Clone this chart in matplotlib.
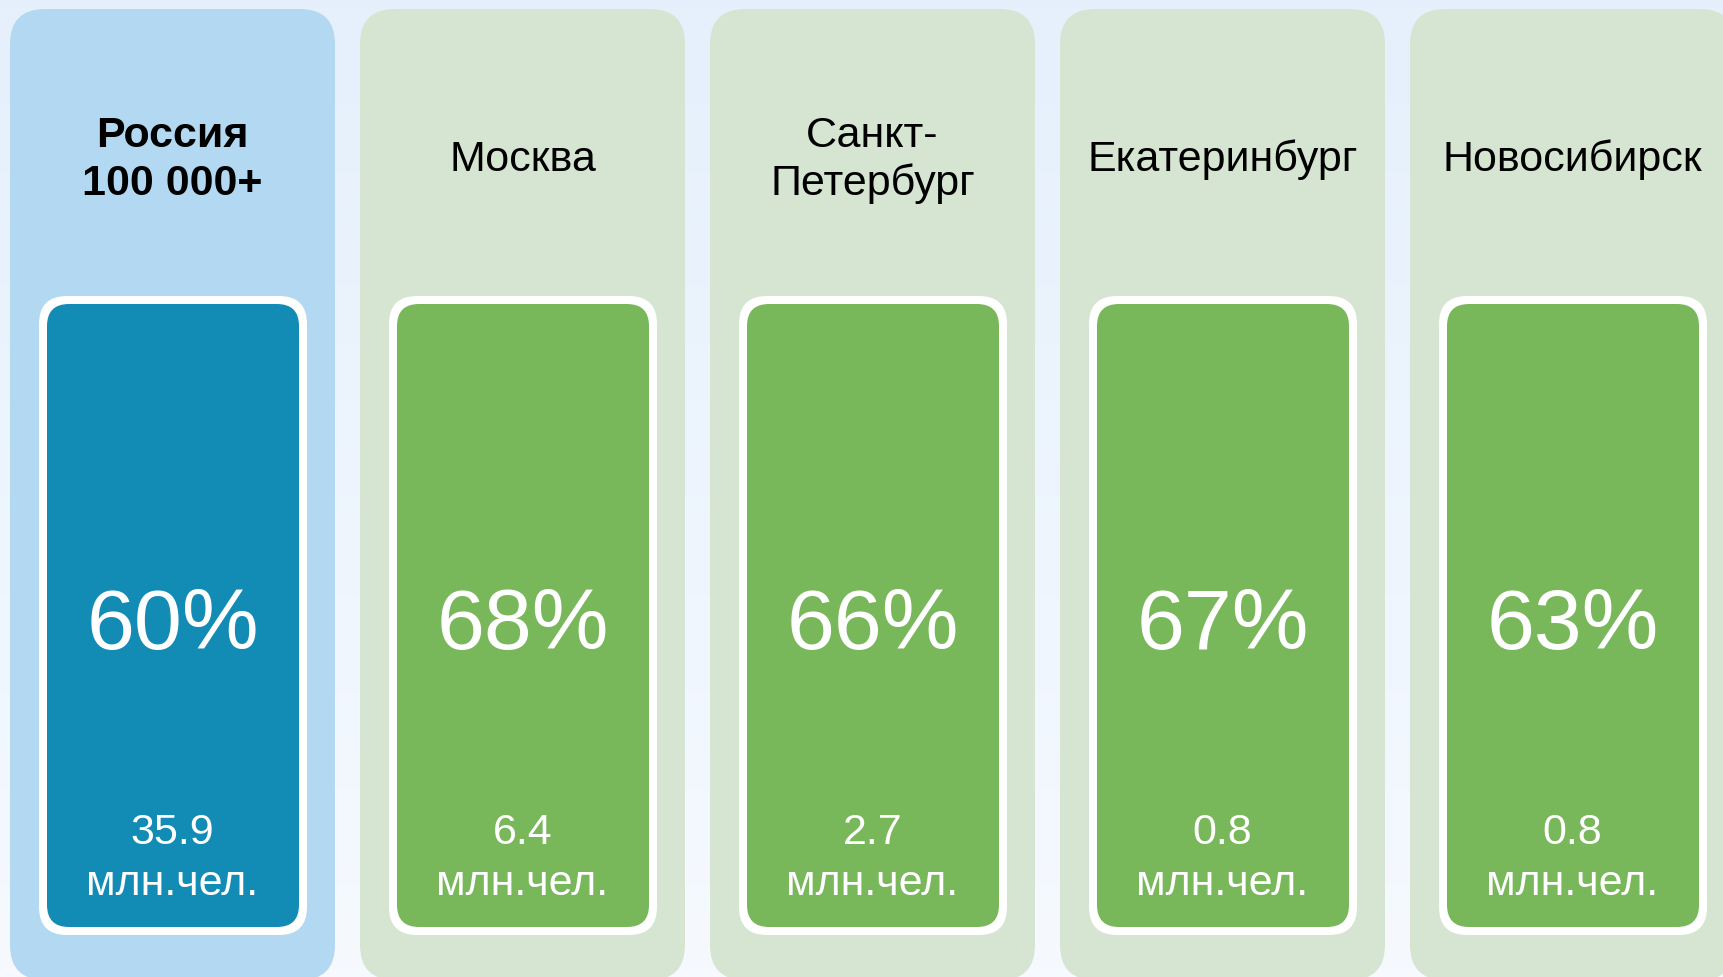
import matplotlib
matplotlib.use("Agg")
import matplotlib.pyplot as plt
from matplotlib.patches import FancyBboxPatch
import numpy as np

# ---- data ----
titles = ["Россия\n100 000+", "Москва", "Санкт-\nПетербург", "Екатеринбург", "Новосибирск"]
percents = [60, 68, 66, 67, 63]
population_mln = [35.9, 6.4, 2.7, 0.8, 0.8]
unit_label = "млн.чел."
highlight = [True, False, False, False, False]

# ---- style ----
W, H = 1723, 977
FONT = "Liberation Sans"
outer_col = {True: "#b3d8f2", False: "#d6e5d2"}
inner_col = {True: "#128cb5", False: "#78b75a"}

fig = plt.figure(figsize=(W / 100, H / 100), dpi=100)
ax = fig.add_axes([0, 0, 1, 1])
ax.set_xlim(0, W)
ax.set_ylim(H, 0)
ax.axis("off")

# background gradient
grad = np.linspace(0, 1, 256).reshape(-1, 1)
top = np.array([0.898, 0.941, 0.988])
bot = np.array([0.965, 0.980, 1.0])
img = top[None, None, :] * (1 - grad[:, :, None]) + bot[None, None, :] * grad[:, :, None]
ax.imshow(img, extent=[0, W, H, 0], aspect="auto", zorder=0)

pitch = 350
card_w = 325
x0 = 10
card_top, card_bot = 9, 980
in_l, in_r = 29, 297          # relative to card left (white border outer)
in_top, in_bot = 296, 935
border = 8

for i, (t, p, pop, hl) in enumerate(zip(titles, percents, population_mln, highlight)):
    left = x0 + i * pitch
    cx = left + card_w / 2
    ax.add_patch(FancyBboxPatch((left, card_top), card_w, card_bot - card_top,
                                boxstyle="round,pad=0,rounding_size=35",
                                fc=outer_col[hl], ec="none", zorder=1))
    ax.add_patch(FancyBboxPatch((left + in_l, in_top), in_r - in_l, in_bot - in_top,
                                boxstyle="round,pad=0,rounding_size=28",
                                fc="white", ec="none", zorder=2))
    ax.add_patch(FancyBboxPatch((left + in_l + border, in_top + border),
                                in_r - in_l - 2 * border, in_bot - in_top - 2 * border,
                                boxstyle="round,pad=0,rounding_size=22",
                                fc=inner_col[hl], ec="none", zorder=3))
    # title lines
    lines = t.split("\n")
    n = len(lines)
    for j, ln in enumerate(lines):
        yb = 171 + (j - (n - 1) / 2) * 48
        ax.text(cx, yb, ln, ha="center", va="baseline", family=FONT,
                fontsize=31, fontweight="bold" if hl else "normal",
                color="black", zorder=4)
    # percent
    ax.text(cx, 649, f"{p}%", ha="center", va="baseline", family=FONT,
            fontsize=62, color="white", zorder=4)
    # population
    ax.text(cx, 844, f"{pop}", ha="center", va="baseline", family=FONT,
            fontsize=31, color="white", zorder=4)
    ax.text(cx, 895, unit_label, ha="center", va="baseline", family=FONT,
            fontsize=31, color="white", zorder=4)

fig.savefig("out.png", dpi=100)
